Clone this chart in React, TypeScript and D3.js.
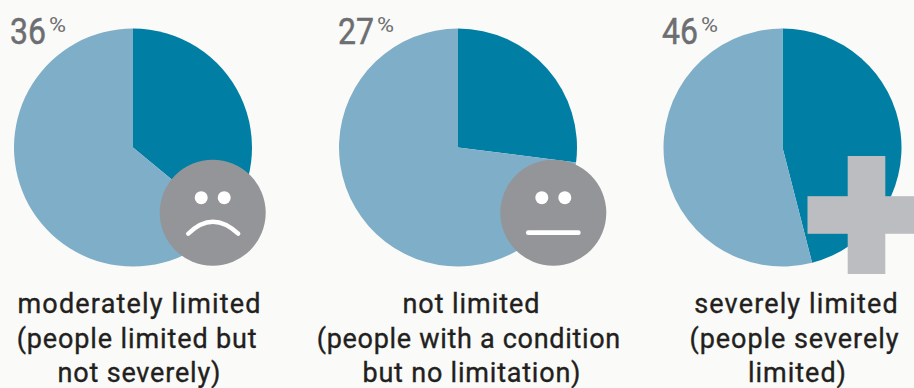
import React from "react";
import * as d3 from "d3";

// Share of people in each limitation group, in percent
const groups = ["moderately", "none", "severe"];
const shares = [36, 27, 46];
const captions = [
  ["moderately limited", "(people limited but", "not severely)"],
  ["not limited", "(people with a condition", "but no limitation)"],
  ["severely limited", "(people severely", "limited)"],
];

const WIDTH = 914;
const HEIGHT = 388;
const RADIUS = 119;
const CENTER_Y = 147.5;
const FONT = "Roboto, sans-serif";

const centerX = d3.scaleOrdinal<string, number>().domain(groups).range([133, 458, 782.5]);
const sliceColor = d3.scaleOrdinal<string, string>().domain(["share", "rest"]).range(["#007ea3", "#7fafc8"]);

const pie = d3.pie<{ key: string; value: number }>().sort(null).value((d) => d.value);
const arc = d3.arc<d3.PieArcDatum<{ key: string; value: number }>>().innerRadius(0).outerRadius(RADIUS);

// Horizontal placement of the stat label and the caption lines, per panel
const statX = [10, 338, 662];
const captionCenters = [
  [139, 136.7, 139],
  [471, 468.5, 471.5],
  [796, 794, 797],
];
const captionWidths = [
  [243, 240, 163],
  [137, 303.5, 218],
  [203.5, 209, 98],
];
const captionBaselines = [312.5, 348, 382];

function Face({ x, kind }: { x: number; kind: "sad" | "flat" }) {
  const cy = 212.7;
  return (
    <g>
      <circle cx={x} cy={cy} r={53} fill="#939598" />
      <circle cx={x - 11.5} cy={cy - 15} r={6.5} fill="#fff" />
      <circle cx={x + 11.5} cy={cy - 15} r={6.5} fill="#fff" />
      {kind === "sad" ? (
        <path
          d={`M${x - 24.5},${cy + 21} Q${x},${cy - 3} ${x + 25.5},${cy + 21}`}
          fill="none"
          stroke="#fff"
          strokeWidth={4.4}
          strokeLinecap="round"
        />
      ) : (
        <line
          x1={x - 25}
          x2={x + 25}
          y1={cy + 20}
          y2={cy + 20}
          stroke="#fff"
          strokeWidth={4.8}
          strokeLinecap="round"
        />
      )}
    </g>
  );
}

function Plus() {
  const cx = 866.5;
  const cy = 215;
  const half = 59;
  const arm = 18.8;
  return (
    <g fill="#bcbdc0">
      <rect x={cx - arm} y={cy - half} width={arm * 2} height={half * 2} />
      <rect x={cx - half} y={cy - arm} width={half * 2} height={arm * 2} />
    </g>
  );
}

export default function App() {
  return (
    <svg
      width={WIDTH}
      height={HEIGHT}
      viewBox={`0 0 ${WIDTH} ${HEIGHT}`}
      style={{ position: "absolute", left: 0, top: 0, background: "#fafaf8" }}
    >
      {groups.map((g, i) => {
        const slices = pie([
          { key: "share", value: shares[i] },
          { key: "rest", value: 100 - shares[i] },
        ]);
        return (
          <g key={g}>
            <g transform={`translate(${centerX(g)},${CENTER_Y})`}>
              {slices.map((s) => (
                <path key={s.data.key} d={arc(s) ?? ""} fill={sliceColor(s.data.key)} />
              ))}
            </g>
            <text
              x={statX[i]}
              y={43.5}
              fontFamily={FONT}
              fontSize={36.5}
              fill="#6d6e71"
              stroke="#6d6e71"
              strokeWidth={0.5}
              textLength={36}
              lengthAdjust="spacingAndGlyphs"
            >
              {shares[i]}
            </text>
            <text x={statX[i] + 39} y={32} fontFamily={FONT} fontSize={21} fill="#6d6e71" textLength={17} lengthAdjust="spacingAndGlyphs">
              %
            </text>
            {captions[i].map((line, j) => (
              <text
                key={j}
                x={captionCenters[i][j]}
                y={captionBaselines[j]}
                textAnchor="middle"
                fontFamily={FONT}
                fontSize={27}
                fill="#231f20"
                stroke="#231f20"
                strokeWidth={0.35}
                textLength={captionWidths[i][j]}
                lengthAdjust="spacing"
              >
                {line}
              </text>
            ))}
          </g>
        );
      })}
      <Face x={212.7} kind="sad" />
      <Face x={553.3} kind="flat" />
      <Plus />
    </svg>
  );
}
